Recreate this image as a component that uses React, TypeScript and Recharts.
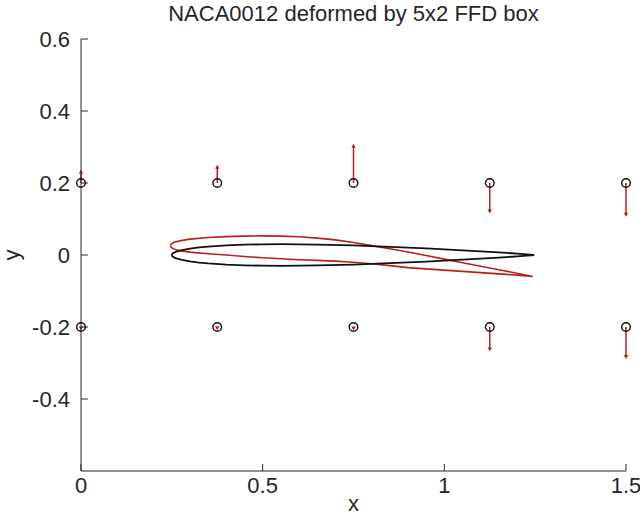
import {
    ComposedChart,
    Line,
    Scatter,
    XAxis,
    YAxis,
    ReferenceLine,
} from "recharts";

const xTicks = [0, 0.5, 1, 1.5];
const yTicks = [-0.4, -0.2, 0, 0.2, 0.4, 0.6];

// FFD control lattice (5x2)
const ctrlX = [0, 0.375, 0.75, 1.125, 1.5];
const ctrlY = [0.2, -0.2];
// where each control point was moved to (arrow tips)
const tipTop = [0.237, 0.251, 0.309, 0.115, 0.106];
const tipBottom = [-0.2095, -0.209, -0.2095, -0.268, -0.289];

// original NACA0012 section
const baseX = [0.25, 0.2512, 0.2531, 0.2562, 0.2625, 0.275, 0.3, 0.325, 0.35, 0.4, 0.45, 0.5, 0.55, 0.65, 0.75, 0.85, 0.95, 1.05, 1.15, 1.2, 1.245];
const baseUpper = [0, 0.0031, 0.0049, 0.0068, 0.0095, 0.013, 0.0178, 0.021, 0.0234, 0.0267, 0.0287, 0.0297, 0.03, 0.029, 0.0265, 0.0228, 0.0183, 0.0131, 0.0072, 0.004, 0.0006];
const baseLower = [0, -0.0031, -0.0049, -0.0068, -0.0095, -0.013, -0.0178, -0.021, -0.0234, -0.0267, -0.0287, -0.0297, -0.03, -0.029, -0.0265, -0.0228, -0.0183, -0.0131, -0.0072, -0.004, -0.0006];

// deformed section
const defX = [0.246, 0.2475, 0.25, 0.255, 0.262, 0.275, 0.3, 0.35, 0.4, 0.45, 0.5, 0.55, 0.6, 0.65, 0.7, 0.75, 0.8, 0.85, 0.9, 0.95, 1.0, 1.05, 1.1, 1.15, 1.2, 1.243];
const defUpper = [0.026, 0.0295, 0.0318, 0.0345, 0.037, 0.04, 0.044, 0.0485, 0.051, 0.0525, 0.053, 0.0525, 0.0505, 0.047, 0.042, 0.0345, 0.026, 0.0175, 0.0085, -0.0015, -0.0115, -0.0215, -0.0315, -0.041, -0.0505, -0.0595];
const defLower = [0.026, 0.0225, 0.02, 0.017, 0.0145, 0.0115, 0.008, 0.0035, 0, -0.004, -0.0075, -0.0105, -0.013, -0.015, -0.017, -0.02, -0.0245, -0.0295, -0.035, -0.0385, -0.042, -0.0455, -0.049, -0.0525, -0.056, -0.0595];

const RED = "#b8221a";
const INK = "#262626";
const FONT = "'Liberation Sans', Arial, sans-serif";

const loop = (xs: number[], up: number[], lo: number[]) => {
    const pts = xs.map((x, i) => ({ x, y: up[i] }));
    for (let i = xs.length - 1; i >= 0; i--) pts.push({ x: xs[i], y: lo[i] });
    return pts;
};

const baseShape = loop(baseX, baseUpper, baseLower);
const defShape = loop(defX, defUpper, defLower);

const ctrlPoints = ctrlY.flatMap((y) => ctrlX.map((x) => ({ x, y })));
const arrows = [
    ...ctrlX.map((x, i) => ({ x, y: ctrlY[0], tip: tipTop[i] })),
    ...ctrlX.map((x, i) => ({ x, y: ctrlY[1], tip: tipBottom[i] })),
];

const Arrow = (props: any) => {
    const { x1, y1, x2, y2 } = props;
    const dir = y2 < y1 ? -1 : 1;
    const head = 4;
    const hw = 2.2;
    return (
        <g>
            <line x1={x1} y1={y1} x2={x2} y2={y2 - dir * head * 0.6} stroke={RED} strokeWidth={1.5} />
            <polygon
                points={`${x2},${y2} ${x2 - hw},${y2 - dir * head} ${x2 + hw},${y2 - dir * head}`}
                fill={RED}
            />
        </g>
    );
};

const Ring = (props: any) => (
    <circle cx={props.cx} cy={props.cy} r={4.3} fill="none" stroke="#111" strokeWidth={1.4} />
);

export default function App() {
    const tick = { fontSize: 22, fill: INK, fontFamily: FONT };
    return (
        <div style={{ position: "absolute", left: 0, top: 0, width: 640, height: 515, background: "#fff" }}>
            <div
                style={{
                    position: "absolute",
                    left: 81,
                    width: 545,
                    top: 3,
                    textAlign: "center",
                    fontFamily: FONT,
                    fontSize: 22,
                    lineHeight: "22px",
                    color: INK,
                    whiteSpace: "nowrap",
                }}
            >
                NACA0012 deformed by 5x2 FFD box
            </div>
            <ComposedChart width={640} height={515} margin={{ top: 39, right: 14, bottom: 0, left: 0 }}>
                <XAxis
                    type="number"
                    dataKey="x"
                    domain={[0, 1.5]}
                    ticks={xTicks}
                    interval={0}
                    height={44}
                    tickSize={-7}
                    tickMargin={13}
                    tick={tick}
                    stroke={INK}
                    tickLine={{ stroke: INK }}
                    label={{ value: "x", position: "insideBottom", offset: 4, style: { fontSize: 22, fill: INK, fontFamily: FONT } }}
                />
                <YAxis
                    type="number"
                    dataKey="y"
                    domain={[-0.6, 0.6]}
                    ticks={yTicks}
                    interval={0}
                    width={81}
                    tickSize={-7}
                    tickMargin={18}
                    tick={tick}
                    stroke={INK}
                    tickLine={{ stroke: INK }}
                    label={{ value: "y", angle: -90, position: "insideLeft", offset: 11, style: { fontSize: 22, fill: INK, fontFamily: FONT, textAnchor: "middle" } }}
                />
                <Line data={defShape} dataKey="y" type="linear" stroke={RED} strokeWidth={1.6} dot={false} isAnimationActive={false} />
                <Line data={baseShape} dataKey="y" type="linear" stroke="#111" strokeWidth={1.8} dot={false} isAnimationActive={false} />
                <Scatter data={ctrlPoints} dataKey="y" shape={<Ring />} isAnimationActive={false} />
                {arrows.map((a, i) => (
                    <ReferenceLine
                        key={i}
                        segment={[{ x: a.x, y: a.y }, { x: a.x, y: a.tip }]}
                        ifOverflow="visible"
                        shape={<Arrow />}
                    />
                ))}
            </ComposedChart>
        </div>
    );
}
